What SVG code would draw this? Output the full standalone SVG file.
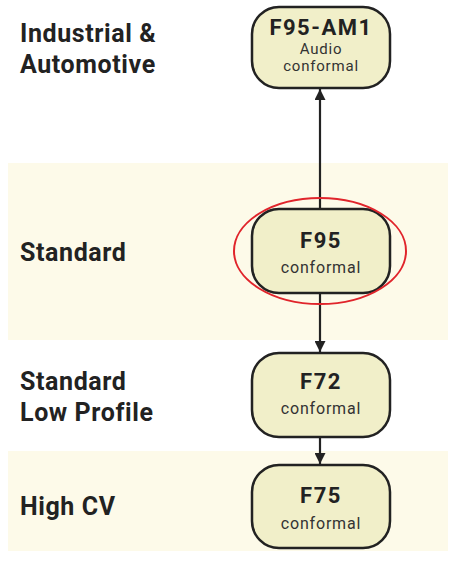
<svg xmlns="http://www.w3.org/2000/svg" width="450" height="561" viewBox="0 0 450 561">
<style>
.band{fill:#fdfae9}
.node{fill:#f1efc9;stroke:#222;stroke-width:2.5}
.title{font-family:Roboto,"Liberation Sans",sans-serif;font-weight:bold;font-size:22px;letter-spacing:1.5px;fill:#222;text-anchor:middle}
.sub{font-family:Roboto,"Liberation Sans",sans-serif;font-size:16px;letter-spacing:0.8px;fill:#333;text-anchor:middle}
.sub2{font-family:Roboto,"Liberation Sans",sans-serif;font-size:15px;letter-spacing:0.8px;fill:#333;text-anchor:middle}
.lab{font-family:Roboto,"Liberation Sans",sans-serif;font-weight:bold;font-size:25px;letter-spacing:0.6px;fill:#222}
.edge{stroke:#222;stroke-width:2.2;fill:none}
</style>
<defs>
<marker id="ah" viewBox="0 0 10 10" refX="10" refY="5" markerWidth="5" markerHeight="5" orient="auto" markerUnits="strokeWidth">
<path d="M0,0 L10,5 L0,10 z" fill="#222"/>
</marker>
</defs>
<rect width="450" height="561" fill="#fff"/>
<rect class="band" x="8" y="163" width="440" height="177"/>
<rect class="band" x="8" y="451" width="440" height="100"/>
<g id="labels">
<text class="lab" x="20" y="42">Industrial &amp;</text>
<text class="lab" x="20" y="73">Automotive</text>
<text class="lab" x="20" y="261">Standard</text>
<text class="lab" x="20" y="390">Standard</text>
<text class="lab" x="20" y="421">Low Profile</text>
<text class="lab" x="20" y="515">High CV</text>
</g>
<g id="connectors">
<line class="edge" x1="320" y1="209" x2="320" y2="89" marker-end="url(#ah)"/>
<line class="edge" x1="320" y1="293" x2="320" y2="352" marker-end="url(#ah)"/>
<line class="edge" x1="320" y1="437" x2="320" y2="464" marker-end="url(#ah)"/>
</g>
<g id="n-f95am1">
<rect class="node" x="252" y="7" width="138" height="81" rx="27"/>
<text class="title" x="321" y="35">F95-AM1</text>
<text class="sub2" x="321" y="54">Audio</text>
<text class="sub2" x="321" y="71">conformal</text>
</g>
<g id="n-f95">
<rect class="node" x="252" y="209" width="138" height="84" rx="27"/>
<text class="title" x="321" y="248">F95</text>
<text class="sub" x="321" y="273">conformal</text>
<ellipse cx="320" cy="251" rx="86" ry="53" fill="none" stroke="#e0242b" stroke-width="2"/>
</g>
<g id="n-f72">
<rect class="node" x="252" y="353" width="138" height="84" rx="27"/>
<text class="title" x="321" y="389">F72</text>
<text class="sub" x="321" y="414">conformal</text>
</g>
<g id="n-f75">
<rect class="node" x="252" y="465" width="138" height="83" rx="27"/>
<text class="title" x="321" y="503">F75</text>
<text class="sub" x="321" y="529">conformal</text>
</g>
</svg>
